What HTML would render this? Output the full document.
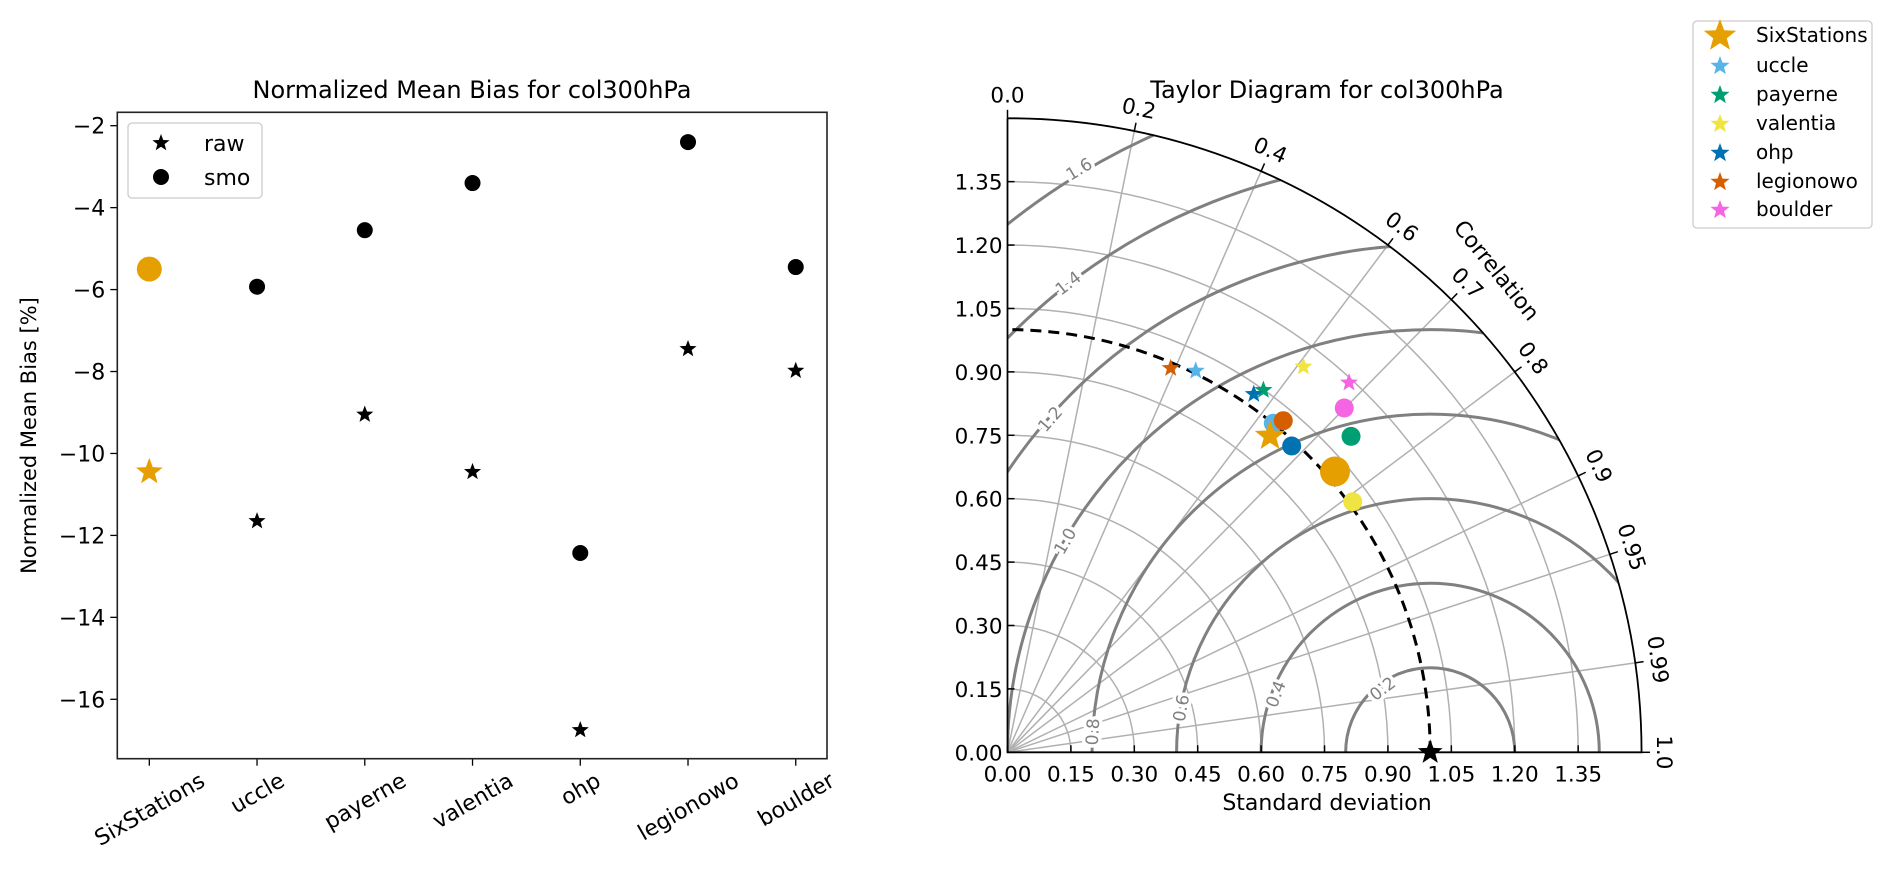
<!DOCTYPE html>
<html><head><meta charset="utf-8"><style>
html,body{margin:0;padding:0;background:#fff;width:1892px;height:870px;overflow:hidden;}
svg{display:block;font-family:"DejaVu Sans","Liberation Sans",sans-serif;}
</style></head><body>
<svg id="fig" width="1892" height="870" viewBox="0 0 1892 870" xmlns="http://www.w3.org/2000/svg">
<rect width="1892" height="870" fill="#fff"/>
<g id="left"></g>
<g id="taylor"></g>
</svg>
<script>
// ---- Bias chart data ----
const stations = ["SixStations","uccle","payerne","valentia","ohp","legionowo","boulder"];
const smoBias = [-5.5,-5.93,-4.55,-3.4,-12.43,-2.4,-5.45];
const rawBias = [-10.45,-11.65,-9.05,-10.45,-16.75,-7.45,-7.98];
const biasTicks = [-2,-4,-6,-8,-10,-12,-14,-16];
// ---- Taylor data ----
const taylorColors = ["#E69F00","#56B4E9","#009E73","#F0E442","#0072B2","#D55E00","#F564E3"];
const rawStd = [0.9725,1.0063,1.0492,1.1498,1.0283,0.9873,1.1905];
const rawCorr = [0.6387,0.4425,0.577,0.6088,0.5666,0.391,0.6786];
const smoStd = [1.0205,1.0007,1.1041,1.0092,0.9885,1.0203,1.1394];
const smoCorr = [0.7592,0.6284,0.7361,0.8093,0.6801,0.6394,0.6992];
const stdTicks = [0,0.15,0.3,0.45,0.6,0.75,0.9,1.05,1.2,1.35];
const corrTicks = [0,0.2,0.4,0.6,0.7,0.8,0.9,0.95,0.99,1.0];
const rmsLevels = [0.2,0.4,0.6,0.8,1.0,1.2,1.4,1.6];

const NS="http://www.w3.org/2000/svg";
function mk(parent,tag,attrs){const e=document.createElementNS(NS,tag);for(const k in attrs)e.setAttribute(k,attrs[k]);parent.appendChild(e);return e;}
function starPts(cx,cy,R){const r=R*0.42;let p=[];for(let i=0;i<10;i++){const a=-Math.PI/2+i*Math.PI/5;const rr=i%2?r:R;p.push((cx+rr*Math.cos(a)).toFixed(2)+","+(cy+rr*Math.sin(a)).toFixed(2));}return p.join(" ");}

// ================= LEFT CHART =================
(function(){
const g=document.getElementById('left');
const X0=117.3,X1=827,Y0=112.3,Y1=758.7;
const xmin=-0.297,xmax=6.29,ymin=-17.45,ymax=-1.673;
const xs=i=>X0+(i-xmin)/(xmax-xmin)*(X1-X0);
const ys=v=>Y1-(v-ymin)/(ymax-ymin)*(Y1-Y0);
let t=mk(g,'text',{x:472,y:98,'font-size':24,'text-anchor':'middle',fill:'#000'});t.textContent="Normalized Mean Bias for col300hPa";

biasTicks.forEach(v=>{const y=ys(v);
 const l=mk(g,'line',{x1:X0-7,x2:X0,y1:y,y2:y,stroke:'#000','stroke-width':1.3});
 
 const tx=mk(g,'text',{x:X0-12,y:y+8,'font-size':22,'text-anchor':'end'});tx.textContent="\u2212"+Math.abs(v);
 });
stations.forEach((s,i)=>{const x=xs(i);
 const l=mk(g,'line',{x1:x,x2:x,y1:Y1,y2:Y1+7,stroke:'#000','stroke-width':1.3});
 
 const tx=mk(g,'text',{'font-size':22,'text-anchor':'middle'});tx.textContent=s;
 
 const w=tx.getComputedTextLength?tx.getComputedTextLength():s.length*13;
 const h=22*0.85;const bh=w*0.5+h*0.866;const cy=770+bh/2;
 tx.setAttribute('transform',`translate(${x},${cy}) rotate(-30)`);tx.setAttribute('y',8);
});
const yl=mk(g,'text',{'font-size':21,'text-anchor':'middle',transform:`translate(36,${(Y0+Y1)/2}) rotate(-90)`});yl.textContent="Normalized Mean Bias [%]";

stations.forEach((s,i)=>{
 const six=i===0,col=six?'#E69F00':'#000';
 const st=mk(g,'polygon',{points:starPts(xs(i),ys(rawBias[i]),six?14:9),fill:col});
 
 const c=mk(g,'circle',{cx:xs(i),cy:ys(smoBias[i]),r:six?12.5:8,fill:col});
 
});
const fr=mk(g,'rect',{x:X0,y:Y0,width:X1-X0,height:Y1-Y0,fill:'none',stroke:'#222','stroke-width':1.6});

const lg=mk(g,'g',{});
mk(lg,'rect',{x:128,y:123,width:134,height:75,rx:4,fill:'#fff',stroke:'#ccc','stroke-width':1.3});
mk(lg,'polygon',{points:starPts(161,143,9),fill:'#000'});
mk(lg,'circle',{cx:161,cy:177,r:8,fill:'#000'});
let a=mk(lg,'text',{x:204,y:151,'font-size':22});a.textContent="raw";

a=mk(lg,'text',{x:204,y:185,'font-size':22});a.textContent="smo";

})();

// ================= TAYLOR =================
(function(){
const g=document.getElementById('taylor');
const OX=1007.5,OY=752.3,S=422.7,RMAX=1.5;
const px=(x)=>OX+x*S, py=(y)=>OY-y*S;
const polar=(r,c)=>{const th=Math.acos(c);return [px(r*Math.cos(th)),py(r*Math.sin(th))];};
const labelPos=[[1382.5,688.6],[1275.7,694],[1181,708],[1092.5,731.8],[1065,541],[1050,419],[1068,283],[1079,169]];
const defs=mk(g,'defs',{});
const cp=mk(defs,'clipPath',{id:'qd'});
mk(cp,'path',{d:`M${OX},${OY} L${px(RMAX)},${OY} A${RMAX*S},${RMAX*S} 0 0 0 ${OX},${py(RMAX)} Z`});
const grid=mk(g,'g',{'clip-path':'url(#qd)'});
stdTicks.forEach(r=>{if(r<=0)return;const R=r*S;
 const p=mk(grid,'path',{d:`M${px(r)},${OY} A${R},${R} 0 0 0 ${OX},${py(r)}`,fill:'none',stroke:'#b0b0b0','stroke-width':1.5});
 });
corrTicks.forEach(c=>{if(c<=0||c>=1)return;const [x,y]=polar(RMAX,c);
 const l=mk(grid,'line',{x1:OX,y1:OY,x2:x,y2:y,stroke:'#b0b0b0','stroke-width':1.5});
 });
rmsLevels.forEach(r=>{const R=r*S;const cx=px(1);
 const p=mk(grid,'circle',{cx:cx,cy:OY,r:R,fill:'none',stroke:'#808080','stroke-width':3});
 });
rmsLevels.forEach((r,i)=>{const [x,y]=labelPos[i];
 const ang=Math.atan2(OY-y,x-px(1))*180/Math.PI;
 let rot=-(ang-90); if(rot<-90)rot+=180; if(rot>90)rot-=180;
 const t=mk(g,'text',{'font-size':17,fill:'#808080','text-anchor':'middle',transform:`translate(${x},${y}) rotate(${rot})`,y:6,stroke:'#fff','stroke-width':7,'paint-order':'stroke'});
 t.textContent=r.toFixed(1);});
const da=mk(g,'path',{d:`M${px(1)},${OY} A${S},${S} 0 0 0 ${OX},${py(1)}`,fill:'none',stroke:'#000','stroke-width':3,'stroke-dasharray':'11,7'});

const ax=mk(g,'path',{d:`M${OX},${py(RMAX)} L${OX},${OY} L${px(RMAX)},${OY} A${RMAX*S},${RMAX*S} 0 0 0 ${OX},${py(RMAX)}`,fill:'none',stroke:'#000','stroke-width':1.8});

stdTicks.forEach(v=>{
 let l=mk(g,'line',{x1:px(v),x2:px(v),y1:OY,y2:OY-7,stroke:'#000','stroke-width':1.5});
 
 l=mk(g,'line',{x1:OX,x2:OX+7,y1:py(v),y2:py(v),stroke:'#000','stroke-width':1.5});
 
 let t=mk(g,'text',{x:px(v),y:OY+29,'font-size':21.5,'text-anchor':'middle'});t.textContent=v.toFixed(2);
 
 t=mk(g,'text',{x:OX-5,y:py(v)+8,'font-size':21.5,'text-anchor':'end'});t.textContent=v.toFixed(2);
 
});
corrTicks.forEach(c=>{const th=Math.acos(c);
 const [x1,y1]=polar(RMAX,c),[x2,y2]=polar(RMAX+0.02,c);
 const l=mk(g,'line',{x1:x1,y1:y1,x2:x2,y2:y2,stroke:'#000','stroke-width':1.5});
 
 const [lx,ly]=polar(1.556,c);const rot=c===0?0:90-th*180/Math.PI;
 const t=mk(g,'text',{'font-size':21.5,'text-anchor':'middle',y:8,transform:`translate(${lx},${ly}) rotate(${rot})`});
 t.textContent=(c===0||c===1)?c.toFixed(1):String(c);
 });
let t=mk(g,'text',{'font-size':22,'text-anchor':'middle',transform:'translate(1497,270) rotate(51)',y:8});t.textContent="Correlation";

t=mk(g,'text',{x:1327,y:810,'font-size':22,'text-anchor':'middle'});t.textContent="Standard deviation";

t=mk(g,'text',{x:1327,y:98,'font-size':24,'text-anchor':'middle'});t.textContent="Taylor Diagram for col300hPa";

stations.forEach((s,i)=>{const six=i===0;
 const [sx,sy]=polar(smoStd[i],smoCorr[i]);
 const c=mk(g,'circle',{cx:sx,cy:sy,r:six?15:9.5,fill:taylorColors[i]});
 });
stations.forEach((s,i)=>{const six=i===0;
 const [x,y]=polar(rawStd[i],rawCorr[i]);
 const p=mk(g,'polygon',{points:starPts(x,y,six?16:9.5),fill:taylorColors[i]});
 });
const rs=mk(g,'polygon',{points:starPts(px(1),OY,13),fill:'#000'});

const lg=mk(g,'g',{});
mk(lg,'rect',{x:1693,y:21,width:179,height:207,rx:4,fill:'#fff',stroke:'#ccc','stroke-width':1.3});
const rows=[35,65,94,123,152,181,209];
stations.forEach((s,i)=>{
 mk(lg,'polygon',{points:starPts(1720,rows[i]+1,i===0?17:10),fill:taylorColors[i]});
 const tx=mk(lg,'text',{x:1756,y:rows[i]+7,'font-size':20});tx.textContent=s;
 });
})();
</script>
</body></html>
